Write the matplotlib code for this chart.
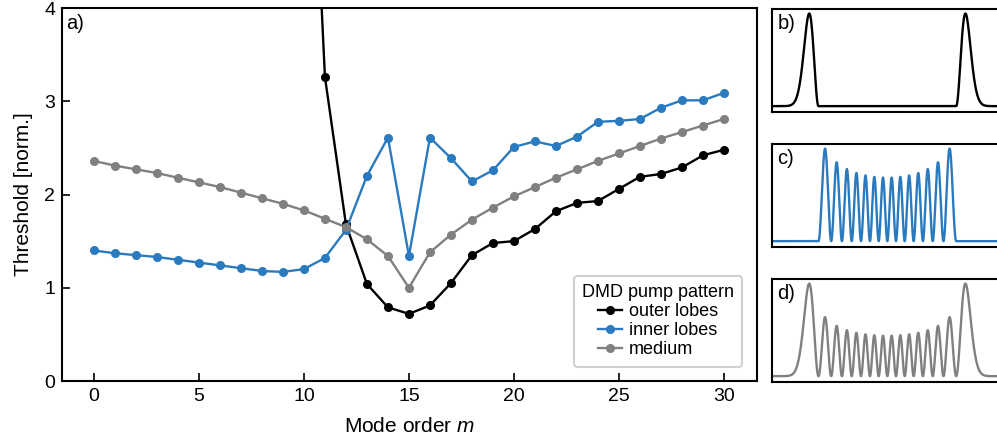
import numpy as np
import matplotlib
matplotlib.use("Agg")
import matplotlib.pyplot as plt
from numpy.polynomial.hermite import hermval, hermroots

plt.rcParams['font.family'] = ['Liberation Sans', 'DejaVu Sans']
plt.rcParams['mathtext.fontset'] = 'custom'
plt.rcParams['mathtext.it'] = 'Liberation Sans:italic'
plt.rcParams['mathtext.rm'] = 'Liberation Sans'

# Threshold vs. mode order for three DMD pump patterns
mode_order = list(range(31))

outer_lobes = [np.nan] * 10 + [
    8.0, 3.26, 1.68, 1.04, 0.79, 0.72, 0.81, 1.05, 1.35, 1.48,
    1.50, 1.63, 1.82, 1.91, 1.93, 2.06, 2.19, 2.22, 2.29, 2.42, 2.48]

inner_lobes = [
    1.40, 1.37, 1.35, 1.33, 1.30, 1.27, 1.24, 1.21, 1.18, 1.17,
    1.20, 1.32, 1.62, 2.20, 2.61, 1.34, 2.61, 2.39, 2.14, 2.26,
    2.51, 2.57, 2.52, 2.62, 2.78, 2.79, 2.81, 2.93, 3.01, 3.01, 3.09]

medium = [
    2.36, 2.31, 2.27, 2.23, 2.18, 2.13, 2.08, 2.02, 1.96, 1.90,
    1.83, 1.74, 1.65, 1.52, 1.34, 1.00, 1.38, 1.57, 1.73, 1.86,
    1.98, 2.08, 2.18, 2.27, 2.36, 2.44, 2.52, 2.60, 2.67, 2.74, 2.81]

series_labels = ["outer lobes", "inner lobes", "medium"]
series_colors = ["#000000", "#2a7abf", "#808080"]

# Pump profile: intensity of the Hermite-Gauss mode of this order
pump_mode = 15

x_tick_values = [0, 5, 10, 15, 20, 25, 30]
y_tick_values = [0, 1, 2, 3, 4]

fig = plt.figure(figsize=(9.97, 4.45), dpi=100)

ax = fig.add_axes([0.0622, 0.1438, 0.6970, 0.8382])
for vals, lab, col in zip([outer_lobes, inner_lobes, medium], series_labels, series_colors):
    ax.plot(mode_order, vals, '-o', color=col, lw=1.7, ms=5.5, label=lab)

ax.set_xlim(-1.52, 31.57)
ax.set_ylim(0, 4)
ax.set_xticks(x_tick_values)
ax.set_yticks(y_tick_values)
ax.tick_params(direction='in', length=6, width=1.2, labelsize=14, pad=5)
for s in ax.spines.values():
    s.set_linewidth(1.5)
ax.set_xlabel('Mode order $m$', fontsize=15, labelpad=9)
ax.set_ylabel('Threshold [norm.]', fontsize=15, labelpad=8)
ax.text(0.006, 0.985, 'a)', transform=ax.transAxes, fontsize=14.5, va='top', ha='left')

leg = ax.legend(title='DMD pump pattern', loc='lower right', fontsize=13,
                title_fontsize=13, handlelength=1.3, handletextpad=0.4,
                borderaxespad=0.8, labelspacing=0.12, borderpad=0.45,
                framealpha=1, edgecolor='#d0d0d0', fancybox=True)
leg.get_frame().set_linewidth(1.5)

# Side panels with the pump intensity patterns
coef = np.zeros(pump_mode + 1)
coef[-1] = 1
xs = np.linspace(-9, 9, 3000)
intensity = (hermval(xs, coef) * np.exp(-xs ** 2 / 2)) ** 2
edge = hermroots(coef).max()
outer_peak = abs(xs[np.argmax(intensity)])

full = intensity / intensity.max()
outer = np.where(np.abs(xs) >= edge, intensity, 0)
outer = outer / outer.max()
inner = np.where(np.abs(xs) <= edge, intensity, 0)
inner = inner / inner.max()

half_width = outer_peak * 115.8 / 78.2
panels = [(0.7490, 'b)', outer, series_colors[0]),
          (0.4456, 'c)', inner, series_colors[1]),
          (0.1422, 'd)', full, series_colors[2])]
for bottom, lab, prof, col in panels:
    sa = fig.add_axes([0.7740, bottom, 0.2320, 0.2310])
    sa.plot(xs, prof, color=col, lw=1.7)
    sa.set_xlim(-half_width, half_width)
    sa.set_ylim(-0.06, 1.05)
    sa.set_xticks([])
    sa.set_yticks([])
    for s in sa.spines.values():
        s.set_linewidth(1.5)
    sa.text(0.025, 0.95, lab, transform=sa.transAxes, fontsize=14.5, va='top', ha='left')

fig.savefig('out.png', dpi=100)
